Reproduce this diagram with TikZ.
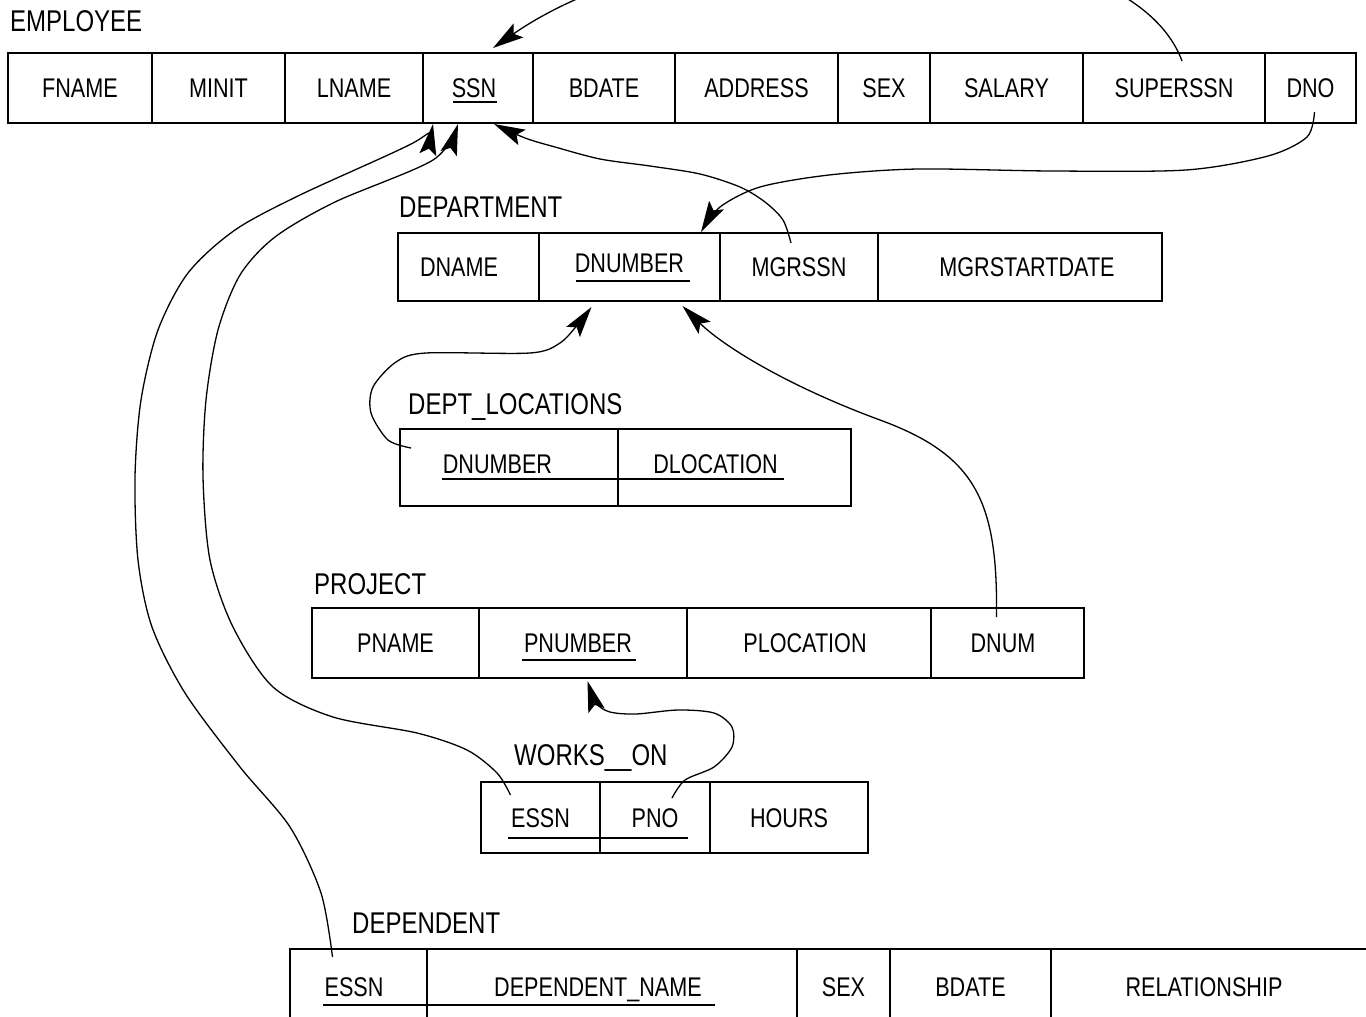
\documentclass[tikz,border=0pt]{standalone}
\usepackage{fontspec}
\setmainfont{Liberation Sans}[FakeStretch=0.8]
\usetikzlibrary{arrows.meta,calc}
\tikzset{
	cell/.style={draw, line width=1.7pt, anchor=north west, inner sep=0pt, outer sep=0pt,
			minimum height=70pt, text height=19pt, text depth=0pt,
			font=\fontsize{27}{30}\selectfont},
	nudge/.style={execute at begin node={\hspace*{#1}}},
	relname/.style={anchor=base west, inner sep=0pt, font=\fontsize{30}{34}\selectfont},
	keyline/.style={line width=1.4pt},
	fk/.style={line width=1.3pt, arrows={-Stealth[length=31pt, width=17pt, inset=6pt]}}
}

\begin{document}
\begin{tikzpicture}[x=1pt,y=-1pt]
			\useasboundingbox (0,0) rectangle (1366,1017);
			\clip (0,0) rectangle (1366,1017);

			% EMPLOYEE
			\node[relname] (employee) at (10,31) {EMPLOYEE};
			\node[cell, minimum width=144pt] (fname) at (8,53) {FNAME};
			\node[cell, minimum width=133pt] (minit) at (152,53) {MINIT};
			\node[cell, minimum width=138pt] (lname) at (285,53) {LNAME};
			\node[cell, minimum width=110pt, nudge=-8pt] (ssn) at (423,53) {SSN};
			\node[cell, minimum width=142pt] (bdate) at (533,53) {BDATE};
			\node[cell, minimum width=163pt] (address) at (675,53) {ADDRESS};
			\node[cell, minimum width=92pt] (esex) at (838,53) {SEX};
			\node[cell, minimum width=153pt] (salary) at (930,53) {SALARY};
			\node[cell, minimum width=182pt] (superssn) at (1083,53) {SUPERSSN};
			\node[cell, minimum width=91pt] (dno) at (1265,53) {DNO};
			\draw[keyline] (453,102) -- (497,102);

			% DEPARTMENT
			\node[relname] (department) at (399,217) {DEPARTMENT};
			\node[cell, minimum width=141pt, minimum height=68pt, nudge=-19pt] (dname) at (398,233) {DNAME};
			\node[cell, minimum width=181pt, minimum height=68pt] (dnumber) at (539,233) {\raisebox{4pt}{DNUMBER}};
			\node[cell, minimum width=158pt, minimum height=68pt] (mgrssn) at (720,233) {MGRSSN};
			\node[cell, minimum width=284pt, minimum height=68pt, nudge=14pt] (mgrstart) at (878,233) {MGRSTARTDATE};
			\draw[keyline] (576,281) -- (690,281);

			% DEPT_LOCATIONS
			\node[relname] (deptloc) at (408,414) {DEPT\_LOCATIONS};
			\node[cell, minimum width=218pt, minimum height=77pt, nudge=-23pt] (dlnumber) at (400,429) {\raisebox{4pt}{DNUMBER}};
			\node[cell, minimum width=233pt, minimum height=77pt, nudge=-38pt] (dlocation) at (618,429) {\raisebox{4pt}{DLOCATION}};
			\draw[keyline] (442,479) -- (784,479);

			% PROJECT
			\node[relname] (project) at (314,594) {PROJECT};
			\node[cell, minimum width=167pt] (pname) at (312,608) {PNAME};
			\node[cell, minimum width=208pt, nudge=-10pt] (pnumber) at (479,608) {PNUMBER};
			\node[cell, minimum width=244pt, nudge=-8pt] (plocation) at (687,608) {PLOCATION};
			\node[cell, minimum width=153pt, nudge=-9pt] (dnum) at (931,608) {DNUM};
			\draw[keyline] (522,660) -- (636,660);

			% WORKS_ON
			\node[relname] (workson) at (514,765) {WORKS\_\_ON};
			\node[cell, minimum width=119pt, minimum height=71pt] (wessn) at (481,782) {ESSN};
			\node[cell, minimum width=110pt, minimum height=71pt] (wpno) at (600,782) {PNO};
			\node[cell, minimum width=158pt, minimum height=71pt] (hours) at (710,782) {HOURS};
			\draw[keyline] (508,838) -- (688,838);

			% DEPENDENT
			\node[relname] (dependent) at (352,933) {DEPENDENT};
			\node[cell, minimum width=137pt, minimum height=76pt, nudge=-9pt] (dessn) at (290,949) {ESSN};
			\node[cell, minimum width=370pt, minimum height=76pt, nudge=-28pt] (depname) at (427,949) {DEPENDENT\_NAME};
			\node[cell, minimum width=93pt, minimum height=76pt] (dsex) at (797,949) {SEX};
			\node[cell, minimum width=161pt, minimum height=76pt] (dbdate) at (890,949) {BDATE};
			\node[cell, minimum width=321pt, minimum height=76pt, nudge=-15pt] (relationship) at (1051,949) {RELATIONSHIP};
			\draw[keyline] (323,1005) -- (715,1005);

			% Foreign keys into SSN
			\draw[fk] ($(superssn.north)+(8,8)$) .. controls +(-55,-150) and +(207,-143) .. ($(ssn.north)+(15,-5)$);
			\draw[fk] plot[smooth] coordinates {($(mgrssn.north)+(-8,10)$) (783,220) (765,202) (740,187) (700,174)
					(650,166) (600,159) (555,147) (525,138) ($(ssn.south)+(16,1)$)};
			\draw[fk] plot[smooth, tension=0.5] coordinates {($(wessn.north)+(-30,13)$) (497,773) (467,750) (417,733) (333,717)
					(273,687) (233,627) (210,560) (203,477) (206,400) (218,330) (240,275) (275,237) (335,202)
					(433,160) ($(ssn.south)+(-20,1)$)};
			\draw[fk] plot[smooth, tension=0.5] coordinates {($(dessn.north)+(-26,8)$) (321,893) (290,827) (240,767) (185,693)
					(152,627) (138,560) (135,477) (141,400) (158,330) (188,273) (235,230) (300,195) (413,143)
					($(ssn.south)+(-45,1)$)};

			% Foreign keys into DNUMBER
			\draw[fk] plot[smooth] coordinates {($(dno.south)+(4,-11)$) (1307,137) (1268,156) (1186,170) (1052,171)
					(918,169) (829,175) (760,187) (720,207) ($(dnumber.north east)+(-19,-1)$)};
			\draw[fk] plot[smooth] coordinates {($(dlnumber.north west)+(11,19)$) (388,440) (371,413) (373,387)
					(396,362) (426,353) (530,353) (560,343) (579,323) ($(dnumber.south)+(-38,6)$)};
			\draw[fk] ($(dnum.north)+(-11,9)$) .. controls (998,500) and (975,455) .. (880,420)
					.. controls (785,385) and (722,345) .. ($(dnumber.south)+(53,5)$);

			% Foreign key into PNUMBER
			\draw[fk] plot[smooth] coordinates {($(wpno.north)+(17,16)$) (685,780) (714,767) (732,747) (732,727)
					(714,713) (678,710) (636,714) (610,712) (596,703) ($(pnumber.south)+(4.5,3)$)};

		\end{tikzpicture}
\end{document}
